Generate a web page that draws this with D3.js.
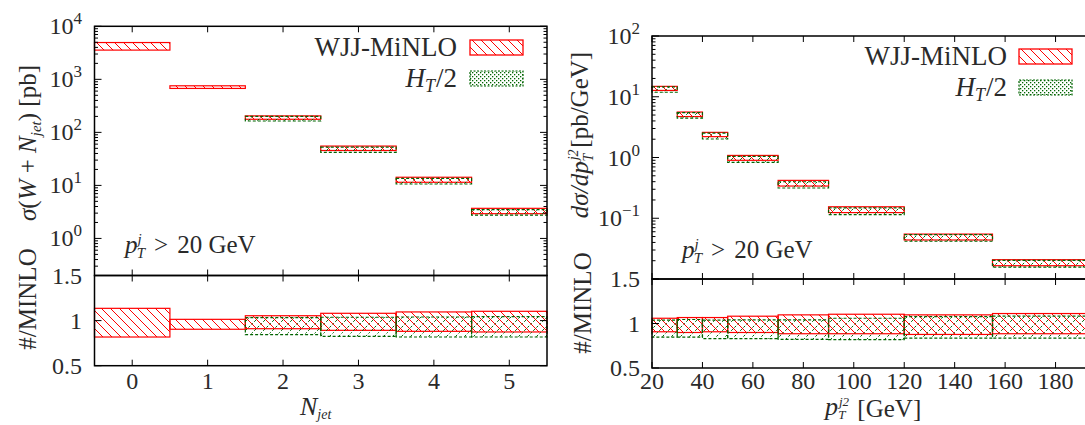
<!DOCTYPE html>
<html><head><meta charset="utf-8">
<script src="https://cdn.jsdelivr.net/npm/d3@7"></script>
<style>
html,body{margin:0;padding:0;background:#fff;}
svg{display:block;}
text{font-family:"Liberation Serif","DejaVu Serif",serif;fill:#2a2a2a;}
</style></head>
<body>
<script>
// ---------------- DATA ----------------
const njetCats   = [0, 1, 2, 3, 4, 5];
const njetMinlo  = [4350, 745, 194, 51, 13, 3.35];
const njetMinloLo = [0.818, 0.904, 0.910, 0.892, 0.881, 0.874];
const njetMinloHi = [1.136, 1.014, 1.054, 1.081, 1.096, 1.103];
const njetHtLo   = [null, null, 0.844, 0.826, 0.818, 0.818];
const njetHtHi   = [null, null, 1.032, 1.037, 1.040, 1.043];

const ptEdges    = [20, 30, 40, 50, 70, 90, 120, 155, 200];
const ptMinlo    = [14, 5.25, 2.43, 1.0, 0.383, 0.14, 0.050, 0.0187];
const ptMinloLo  = [0.907, 0.899, 0.907, 0.899, 0.885, 0.885, 0.877, 0.885];
const ptMinloHi  = [1.059, 1.067, 1.067, 1.082, 1.097, 1.104, 1.097, 1.112];
const ptHtLo     = [0.847, 0.847, 0.829, 0.829, 0.821, 0.818, 0.836, 0.836];
const ptHtHi     = [1.037, 1.045, 1.037, 1.041, 1.041, 1.059, 1.078, 1.082];

const leftYTickExp  = [0, 1, 2, 3, 4];
const rightYTickExp = [-1, 0, 1, 2];
const ratioTicks    = [0.5, 1, 1.5];
const leftXTicks    = [0, 1, 2, 3, 4, 5];
const rightXTicks   = [20, 40, 60, 80, 100, 120, 140, 160, 180];
const seriesNames   = ["WJJ-MiNLO", "H_T/2"];

// ---------------- SETUP ----------------
const W = 1085, H = 425;
const svg = d3.select("body").append("svg").attr("width", W).attr("height", H);
const defs = svg.append("defs");
const RED = "#ff0000", GREEN = "#006400";

function hatch(id, color, dir, dash) {
  const p = defs.append("pattern").attr("id", id).attr("patternUnits", "userSpaceOnUse")
    .attr("width", 9).attr("height", 9);
  const d = dir === "\\" ? "M-1,-1 L10,10 M-1,8 L1,10 M8,-1 L10,1" : "M-1,10 L10,-1 M-1,1 L1,-1 M8,10 L10,8";
  const path = p.append("path").attr("d", d).attr("stroke", color).attr("stroke-width", 1);
  if (dash) path.attr("stroke-dasharray", dash);
}
hatch("redH", RED, "\\", null);
hatch("greenH", GREEN, "/", "2.5,2");
const dp = defs.append("pattern").attr("id", "greenDots").attr("patternUnits", "userSpaceOnUse")
  .attr("width", 4).attr("height", 4);
dp.append("rect").attr("x", 0).attr("y", 0).attr("width", 1.3).attr("height", 1.3).attr("fill", GREEN);
dp.append("rect").attr("x", 2).attr("y", 2).attr("width", 1.3).attr("height", 1.3).attr("fill", GREEN);

const FS = 24;

function drawFrame(g, x0, y0, x1, y1) {
  g.append("rect").attr("x", x0).attr("y", y0).attr("width", x1 - x0).attr("height", y1 - y0)
    .attr("fill", "none").attr("stroke", "#000").attr("stroke-width", 1.5);
}
function tick(g, x1, y1, x2, y2) {
  g.append("line").attr("x1", x1).attr("y1", y1).attr("x2", x2).attr("y2", y2)
    .attr("stroke", "#000").attr("stroke-width", 1);
}
function powLabel(g, x, y, exp) {
  const t = g.append("text").attr("x", x).attr("y", y).attr("text-anchor", "end")
    .attr("font-size", FS);
  t.append("tspan").text("10");
  t.append("tspan").attr("dy", -10).attr("font-size", 17).text(exp < 0 ? "\u2212" + (-exp) : String(exp));
}
function box(g, x0, x1, y0, y1, fill, stroke, dash) {
  const r = g.append("rect").attr("x", Math.min(x0, x1)).attr("y", Math.min(y0, y1))
    .attr("width", Math.abs(x1 - x0)).attr("height", Math.abs(y1 - y0))
    .attr("fill", fill).attr("stroke", stroke).attr("stroke-width", 1.2);
  if (dash) r.attr("stroke-dasharray", dash);
}

// ---------------- PANEL BUILDER ----------------
function panel(opt) {
  const g = svg.append("g");
  const x = opt.x, yTop = opt.yTop, yRat = opt.yRat;
  const [X0, X1] = x.range();
  const [T1, T0] = yTop.range();
  const [R1, R0] = yRat.range();

  const bins = opt.bins;
  bins.forEach(b => {
    box(g, x(b.lo), x(b.hi), yTop(b.c * b.mLo), yTop(b.c * b.mHi), "url(#redH)", RED, null);
    box(g, x(b.lo), x(b.hi), yRat(b.mLo), yRat(b.mHi), "url(#redH)", RED, null);
  });
  bins.forEach(b => {
    if (b.hLo == null) return;
    box(g, x(b.lo), x(b.hi), yTop(b.c * b.hLo), yTop(b.c * b.hHi), "url(#greenH)", GREEN, "3,2");
    box(g, x(b.lo), x(b.hi), yRat(b.hLo), yRat(b.hHi), "url(#greenH)", GREEN, "3,2");
  });

  drawFrame(g, X0, T0, X1, T1);
  drawFrame(g, X0, R0, X1, R1);

  opt.xTicks.forEach(v => {
    const px = x(v);
    [[T0, T1], [R0, R1]].forEach(([a, b]) => {
      tick(g, px, a, px, a + 6);
      tick(g, px, b, px, b - 6);
    });
    g.append("text").attr("x", px).attr("y", 389).attr("text-anchor", "middle")
      .attr("font-size", FS).text(v);
  });

  const [lo, hi] = yTop.domain();
  for (let e = Math.floor(Math.log10(lo)); e <= Math.ceil(Math.log10(hi)); e++) {
    for (let m = 1; m <= 9; m++) {
      const v = m * Math.pow(10, e);
      if (v < lo * 0.999 || v > hi * 1.001) continue;
      const len = m === 1 ? 7 : 3.5;
      const py = yTop(v);
      tick(g, X0, py, X0 + len, py);
      tick(g, X1, py, X1 - len, py);
    }
  }
  opt.yTickExp.forEach(e => powLabel(g, opt.labelX, yTop(Math.pow(10, e)) + 8, e));

  ratioTicks.forEach(v => {
    const py = yRat(v);
    tick(g, X0, py, X0 + 7, py);
    tick(g, X1, py, X1 - 7, py);
    g.append("text").attr("x", opt.labelX).attr("y", py + 8).attr("text-anchor", "end")
      .attr("font-size", FS).text(v);
  });

  const L = opt.legend;
  g.append("text").attr("x", L.tx).attr("y", L.y1).attr("text-anchor", "end")
    .attr("font-size", 27).text(seriesNames[0]);
  g.append("rect").attr("x", L.sx).attr("y", L.y1 - 16).attr("width", 53).attr("height", 15)
    .attr("fill", "url(#redH)").attr("stroke", RED).attr("stroke-width", 1.3);
  const t2 = g.append("text").attr("x", L.tx).attr("y", L.y2).attr("text-anchor", "end").attr("font-size", 27);
  t2.append("tspan").attr("font-style", "italic").text("H");
  t2.append("tspan").attr("font-style", "italic").attr("font-size", 18).attr("dy", 5).text("T");
  t2.append("tspan").attr("dy", -5).attr("dx", 1).text("/2");
  g.append("rect").attr("x", L.sx).attr("y", L.y2 - 16).attr("width", 53).attr("height", 15)
    .attr("fill", "url(#greenDots)").attr("stroke", GREEN).attr("stroke-width", 1.2).attr("stroke-dasharray", "2,1.5");

  const a = g.append("text").attr("x", opt.annX).attr("y", opt.annY).attr("font-size", 25);
  a.append("tspan").attr("font-style", "italic").text("p");
  a.append("tspan").attr("font-style", "italic").attr("font-size", 15).attr("dy", -9).attr("dx", 0).text("j");
  a.append("tspan").attr("font-style", "italic").attr("font-size", 15).attr("dy", 14).attr("dx", -5).text("T");
  a.append("tspan").attr("dy", -5).attr("dx", 9).text(">");
  a.append("tspan").attr("dx", 9).text("20 GeV");
  return g;
}

// ---------------- LEFT PANEL ----------------
const xL = d3.scaleLinear().domain([-0.5, 5.5]).range([94.5, 547]);
const yLT = d3.scaleLog().domain([0.2, 1e4]).range([275.5, 26.3]);
const yLR = d3.scaleLinear().domain([0.5, 1.5]).range([365.7, 275.5]);
const binsL = njetCats.map((c, i) => ({ lo: c - 0.5, hi: c + 0.5, c: njetMinlo[i],
  mLo: njetMinloLo[i], mHi: njetMinloHi[i], hLo: njetHtLo[i], hHi: njetHtHi[i] }));
panel({ x: xL, yTop: yLT, yRat: yLR, bins: binsL, xTicks: leftXTicks,
  yTickExp: leftYTickExp, labelX: 82,
  legend: { tx: 457, sx: 470, y1: 56, y2: 87 }, annX: 125, annY: 253 });

const lt = svg.append("text").attr("transform", "translate(36,143) rotate(-90)")
  .attr("text-anchor", "middle").attr("font-size", FS + 1);
lt.append("tspan").attr("font-style", "italic").text("σ");
lt.append("tspan").text("(");
lt.append("tspan").attr("font-style", "italic").text("W");
lt.append("tspan").text(" + ");
lt.append("tspan").attr("font-style", "italic").text("N");
lt.append("tspan").attr("font-style", "italic").attr("font-size", 15).attr("dy", 5).text("jet");
lt.append("tspan").attr("dy", -5).text(") [pb]");
svg.append("text").attr("transform", "translate(36,299) rotate(-90)")
  .attr("text-anchor", "middle").attr("font-size", FS + 1).text("#/MINLO");
const lx = svg.append("text").attr("x", 300).attr("y", 415).attr("font-size", FS + 2);
lx.append("tspan").attr("font-style", "italic").text("N");
lx.append("tspan").attr("font-style", "italic").attr("font-size", 14).attr("dy", 4).text("jet");

// ---------------- RIGHT PANEL ----------------
const xR = d3.scaleLinear().domain([20, 200]).range([652, 1106]);
const yRT = d3.scaleLog().domain([0.01, 100]).range([279, 36]);
const yRR = d3.scaleLinear().domain([0.5, 1.5]).range([368, 279]);
const binsR = ptMinlo.map((c, i) => ({ lo: ptEdges[i], hi: ptEdges[i + 1], c: c,
  mLo: ptMinloLo[i], mHi: ptMinloHi[i], hLo: ptHtLo[i], hHi: ptHtHi[i] }));
panel({ x: xR, yTop: yRT, yRat: yRR, bins: binsR, xTicks: rightXTicks,
  yTickExp: rightYTickExp, labelX: 640,
  legend: { tx: 1007, sx: 1019, y1: 65, y2: 96 }, annX: 682, annY: 258 });

const rt = svg.append("text").attr("transform", "translate(588,135) rotate(-90)")
  .attr("text-anchor", "middle").attr("font-size", FS + 1);
rt.append("tspan").attr("font-style", "italic").text("dσ/dp");
rt.append("tspan").attr("font-style", "italic").attr("font-size", 14).attr("dy", -10).attr("dx", 1).text("j2");
rt.append("tspan").attr("font-style", "italic").attr("font-size", 14).attr("dy", 15).attr("dx", -12).text("T");
rt.append("tspan").attr("dy", -5).attr("dx", 6).text("[pb/GeV]");
svg.append("text").attr("transform", "translate(591,303) rotate(-90)")
  .attr("text-anchor", "middle").attr("font-size", FS + 1).text("#/MINLO");
const rx = svg.append("text").attr("x", 825).attr("y", 415).attr("font-size", FS + 2);
rx.append("tspan").attr("font-style", "italic").text("p");
rx.append("tspan").attr("font-style", "italic").attr("font-size", 13).attr("dy", -9).attr("dx", 1).text("j2");
rx.append("tspan").attr("font-style", "italic").attr("font-size", 13).attr("dy", 13).attr("dx", -11).text("T");
rx.append("tspan").attr("dy", -2).attr("dx", 12).attr("font-size", FS + 1).text("[GeV]");
</script>
</body></html>
